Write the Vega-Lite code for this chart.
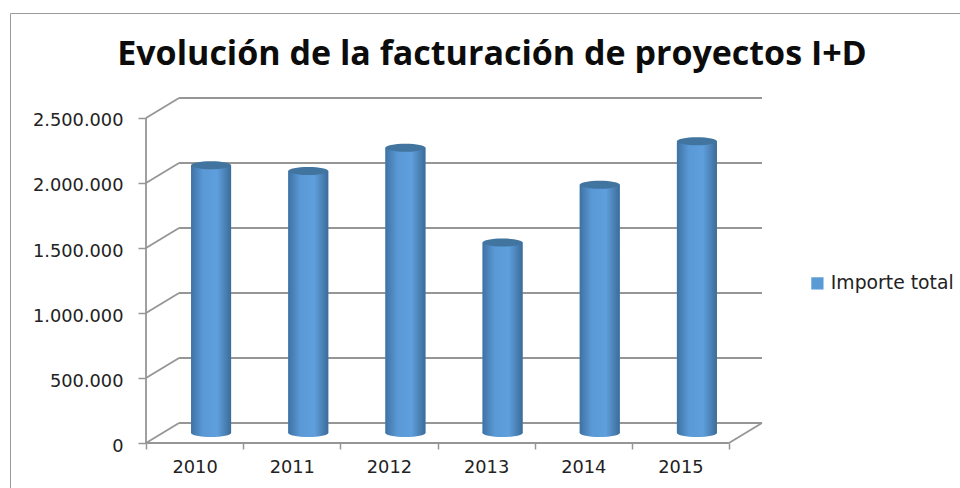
{
"$schema":"https://vega.github.io/schema/vega-lite/v6.json",
"width":950,"height":475,
"autosize":{"type":"none"},
"padding":{"left":10,"top":13,"right":0,"bottom":0},
"background":"white",
"config":{"view":{"stroke":"#9a9a9a","strokeWidth":1}},
"title":{"text":"Evolución de la facturación de proyectos I+D","font":"Open Sans","fontWeight":700,"fontSize":34,"color":"#0c0c0c","anchor":"middle","dx":7,"offset":-59},
"datasets":{
"sales":[
{"year":"2010","total":2060000,"serie":"Importe total"},
{"year":"2011","total":2015000,"serie":"Importe total"},
{"year":"2012","total":2195000,"serie":"Importe total"},
{"year":"2013","total":1465000,"serie":"Importe total"},
{"year":"2014","total":1910000,"serie":"Importe total"},
{"year":"2015","total":2245000,"serie":"Importe total"}],
"grid":[
{"value":0,"back":153846},{"value":500000,"back":653846},{"value":1000000,"back":1153846},{"value":1500000,"back":1653846},{"value":2000000,"back":2153846},{"value":2500000,"back":2653846}]
},
"resolve":{"scale":{"x":"independent"}},
"layer":[
{"data":{"name":"grid"},"mark":{"type":"rule","color":"#969696","strokeWidth":1.8},
"encoding":{"x":{"datum":0.34,"type":"quantitative","scale":{"domain":[0,6.34],"range":[136,752]},"axis":null},"x2":{"datum":6.34},
"y":{"field":"back","type":"quantitative","scale":{"domain":[0,2653846],"range":[430,85],"nice":false},
"axis":{"values":[0,500000,1000000,1500000,2000000,2500000],"title":null,"offset":-136,"domain":false,"grid":false,"tickColor":"#969696","tickSize":8,"tickWidth":1.5,"labelFont":"DejaVu Sans","labelFontSize":17.8,"labelColor":"#222222","labelPadding":15,"labelOffset":3,"labelExpr":"replace(format(datum.value,','),/,/g,'.')"}}}},
{"data":{"name":"grid"},"mark":{"type":"rule","color":"#969696","strokeWidth":1.8},
"encoding":{"x":{"datum":0,"type":"quantitative","scale":{"domain":[0,6.34],"range":[136,752]},"axis":null},"x2":{"datum":0.34},
"y":{"field":"value","type":"quantitative"},"y2":{"field":"back"}}},
{"data":{"values":[{"value":0,"back":153846}]},"mark":{"type":"rule","color":"#969696","strokeWidth":1.8},
"encoding":{"x":{"datum":6,"type":"quantitative","scale":{"domain":[0,6.34],"range":[136,752]},"axis":null},"x2":{"datum":6.34},
"y":{"field":"value","type":"quantitative"},"y2":{"field":"back"}}},
{"data":{"values":[{"value":0}]},"mark":{"type":"rule","color":"#969696","strokeWidth":1.8},
"encoding":{"x":{"datum":0,"type":"quantitative","scale":{"domain":[0,6.34],"range":[136,752]},"axis":null},"x2":{"datum":6},
"y":{"field":"value","type":"quantitative"}}},
{"data":{"values":[{"bottom":0,"top":2500000}]},"mark":{"type":"rule","color":"#969696","strokeWidth":1.8},
"encoding":{"x":{"datum":0,"type":"quantitative","scale":{"domain":[0,6.34],"range":[136,752]},"axis":null},
"y":{"field":"bottom","type":"quantitative"},"y2":{"field":"top"}}},
{"data":{"name":"sales"},"mark":{"type":"bar","width":40,"xOffset":16.5,"yOffset":-10,"y2Offset":-10},
"encoding":{"x":{"field":"year","type":"nominal","scale":{"type":"band","range":[136,719],"paddingInner":0,"paddingOuter":0},
"axis":{"title":null,"labelAngle":0,"domain":false,"tickBand":"extent","tickColor":"#969696","tickSize":6,"tickWidth":1.5,"offset":-45,"labelFont":"DejaVu Sans","labelFontSize":17.8,"labelColor":"#222222","labelPadding":9}},
"y":{"field":"total","type":"quantitative"},"y2":{"datum":0},
"color":{"field":"serie","type":"nominal","scale":{"range":["#5B9BD5"]},
"legend":{"title":null,"orient":"none","legendX":798,"legendY":261,"symbolType":"square","symbolSize":150,"symbolStrokeWidth":0,"labelFont":"DejaVu Sans","labelFontSize":18.8,"labelColor":"#222222"}}}},
{"data":{"name":"sales"},"mark":{"type":"point","filled":true,"opacity":1,"shape":"M-1,0 A1,0.2 0 1 0 1,0 A1,0.2 0 1 0 -1,0 Z","size":1600,"xOffset":16.5,"yOffset":-10,"fill":{"x1":0,"x2":1,"y1":0,"y2":0,"gradient":"linear","stops":[{"offset":0,"color":"#3f72a3"},{"offset":0.3,"color":"#5a99d6"},{"offset":0.65,"color":"#5f9fdd"},{"offset":1,"color":"#3c6c99"}]}},
"encoding":{"x":{"field":"year","type":"nominal","scale":{"type":"band","range":[136,719],"paddingInner":0,"paddingOuter":0},"axis":null},"y":{"datum":0,"type":"quantitative"}}},
{"data":{"name":"sales"},"mark":{"type":"bar","width":40,"xOffset":16.5,"yOffset":-10,"y2Offset":-10,"fill":{"x1":0,"x2":1,"y1":0,"y2":0,"gradient":"linear","stops":[{"offset":0,"color":"#3f72a3"},{"offset":0.3,"color":"#5a99d6"},{"offset":0.65,"color":"#5f9fdd"},{"offset":1,"color":"#3c6c99"}]}},
"encoding":{"x":{"field":"year","type":"nominal","scale":{"type":"band","range":[136,719],"paddingInner":0,"paddingOuter":0},"axis":null},"y":{"field":"total","type":"quantitative"},"y2":{"datum":0}}},
{"data":{"name":"sales"},"mark":{"type":"point","filled":true,"opacity":1,"shape":"M-1,0 A1,0.2 0 1 0 1,0 A1,0.2 0 1 0 -1,0 Z","size":1600,"xOffset":16.5,"yOffset":-10,"fill":"#41749f"},
"encoding":{"x":{"field":"year","type":"nominal","scale":{"type":"band","range":[136,719],"paddingInner":0,"paddingOuter":0},"axis":null},"y":{"field":"total","type":"quantitative"}}}
]
}
